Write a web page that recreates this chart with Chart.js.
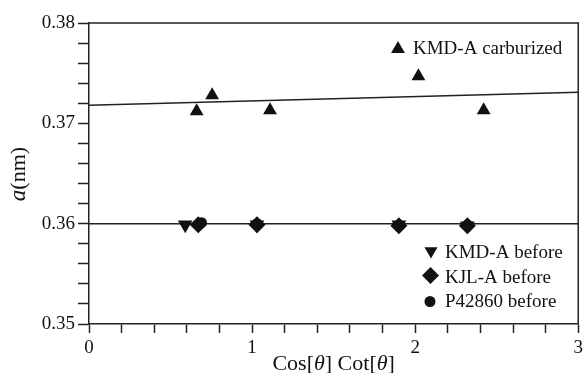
<!DOCTYPE html>
<html>
<head>
<meta charset="utf-8">
<script src="https://cdn.jsdelivr.net/npm/chart.js@4"></script>
<style>
  html, body { margin: 0; padding: 0; background: #fff; overflow: hidden; }
  #wrap { width: 583px; height: 373px; overflow: hidden; }
</style>
</head>
<body>
<div id="wrap"><canvas id="latticeChart" width="587" height="373"></canvas></div>
<script>
// data
var carbX = [0.66, 0.755, 1.11, 2.02, 2.42];
var carbY = [0.3712, 0.3728, 0.3713, 0.3747, 0.3713];
var kmdX = [0.59, 1.03, 1.90, 2.32];
var kmdY = [0.3599, 0.3599, 0.3599, 0.3598];
var kjlX = [0.67, 1.03, 1.90, 2.32];
var kjlY = [0.3599, 0.3599, 0.3598, 0.3598];
var p428X = [0.69, 1.03];
var p428Y = [0.3601, 0.3600];
var fitX = [0, 3];
var carbFitY = [0.3718, 0.3731];
var beforeFitY = [0.36, 0.36];
var xLabels = [0, 1, 2, 3];
var yLabels = [0.35, 0.36, 0.37, 0.38];

var serif = '"Liberation Serif", "DejaVu Serif", serif';
var ink = '#111';

function pts(xs, ys) {
    return xs.map(function (x, i) { return { x: x, y: ys[i] }; });
}

function marker(ctx, style, x, y, r) {
    ctx.beginPath();
    if (style === 'circle') {
        ctx.arc(x, y, r, 0, Math.PI * 2);
    } else if (style === 'up') {
        ctx.moveTo(x, y - r);
        ctx.lineTo(x + r * 0.866, y + r / 2);
        ctx.lineTo(x - r * 0.866, y + r / 2);
    } else if (style === 'down') {
        ctx.moveTo(x, y + r);
        ctx.lineTo(x + r * 0.866, y - r / 2);
        ctx.lineTo(x - r * 0.866, y - r / 2);
    } else {
        ctx.moveTo(x, y - r);
        ctx.lineTo(x + r, y);
        ctx.lineTo(x, y + r);
        ctx.lineTo(x - r, y);
    }
    ctx.closePath();
    ctx.fill();
}

// frame, axis titles and legends
var extras = {
    id: 'extras',
    afterDraw: function (chart) {
        var ctx = chart.ctx, a = chart.chartArea;
        ctx.save();
        ctx.strokeStyle = '#222';
        ctx.lineWidth = 1.5;
        ctx.beginPath();
        ctx.moveTo(a.left, a.top);
        ctx.lineTo(a.right, a.top);
        ctx.lineTo(a.right, a.bottom);
        ctx.stroke();

        ctx.fillStyle = ink;
        ctx.textBaseline = 'alphabetic';

        // x title
        var parts = [['Cos[', ''], ['\u03b8', 'italic '], ['] Cot[', ''], ['\u03b8', 'italic '], [']', '']];
        var total = 0;
        parts.forEach(function (p) {
            ctx.font = p[1] + '22px ' + serif;
            total += ctx.measureText(p[0]).width;
        });
        var cx = (a.left + a.right) / 2 - total / 2;
        parts.forEach(function (p) {
            ctx.font = p[1] + '22px ' + serif;
            ctx.fillText(p[0], cx, 370);
            cx += ctx.measureText(p[0]).width;
        });

        // y title
        ctx.save();
        ctx.translate(25, 174);
        ctx.rotate(-Math.PI / 2);
        ctx.font = 'italic 23px ' + serif;
        var wa = ctx.measureText('a').width;
        ctx.font = '22px ' + serif;
        var wn = ctx.measureText('(nm)').width;
        var sx = -(wa + wn) / 2;
        ctx.font = 'italic 23px ' + serif;
        ctx.fillText('a', sx, 0);
        ctx.font = '22px ' + serif;
        ctx.fillText('(nm)', sx + wa, 0);
        ctx.restore();

        // legends
        ctx.font = '19px ' + serif;
        marker(ctx, 'up', 398, 49, 8);
        ctx.fillText('KMD-A carburized', 413, 54);
        marker(ctx, 'down', 431, 251, 7.5);
        ctx.fillText('KMD-A before', 445, 258);
        marker(ctx, 'diamond', 430.5, 275.5, 8.5);
        ctx.fillText('KJL-A before', 445, 283);
        marker(ctx, 'circle', 430, 301.5, 5.5);
        ctx.fillText('P42860 before', 445, 307);
        ctx.restore();
    }
};

var ctx = document.getElementById('latticeChart').getContext('2d');
new Chart(ctx, {
    type: 'scatter',
    data: {
        datasets: [
            { label: 'KMD-A carburized', data: pts(carbX, carbY), pointStyle: 'triangle', pointRadius: 8, backgroundColor: ink, borderWidth: 0 },
            { label: 'P42860 before', data: pts(p428X, p428Y), pointStyle: 'circle', pointRadius: 5.5, backgroundColor: ink, borderWidth: 0 },
            { label: 'KJL-A before', data: pts(kjlX, kjlY), pointStyle: 'rectRot', pointRadius: 8.5, backgroundColor: ink, borderWidth: 0 },
            { label: 'KMD-A before', data: pts(kmdX, kmdY), pointStyle: 'triangle', rotation: 180, pointRadius: 8.5, backgroundColor: ink, borderWidth: 0 },
            { label: 'fit carburized', data: pts(fitX, carbFitY), showLine: true, pointRadius: 0, borderColor: '#222', borderWidth: 1.5 },
            { label: 'fit before', data: pts(fitX, beforeFitY), showLine: true, pointRadius: 0, borderColor: '#222', borderWidth: 1.5 }
        ]
    },
    options: {
        responsive: false,
        animation: false,
        layout: { padding: { top: 23, right: 0, left: 0, bottom: 0 } },
        plugins: { legend: { display: false }, tooltip: { enabled: false } },
        scales: {
            x: {
                type: 'linear', min: 0, max: 3,
                afterFit: function (s) { s.height = 49; },
                grid: { drawOnChartArea: false, tickLength: 9, tickColor: '#222', tickWidth: 1.5 },
                border: { color: '#222', width: 1.5 },
                ticks: {
                    stepSize: 0.2, autoSkip: false, maxRotation: 0, padding: 4,
                    color: ink, font: { family: serif, size: 19 },
                    callback: function (v) {
                        var hit = xLabels.filter(function (t) { return Math.abs(t - v) < 1e-6; });
                        return hit.length ? String(hit[0]) : '';
                    }
                }
            },
            y: {
                min: 0.35, max: 0.38,
                afterFit: function (s) { s.width = 89; },
                grid: { drawOnChartArea: false, tickLength: 11, tickColor: '#222', tickWidth: 1.5 },
                border: { color: '#222', width: 1.5 },
                ticks: {
                    stepSize: 0.002, autoSkip: false, padding: 3,
                    color: ink, font: { family: serif, size: 19 },
                    callback: function (v) {
                        var hit = yLabels.filter(function (t) { return Math.abs(t - v) < 1e-7; });
                        return hit.length ? hit[0].toFixed(2) : '';
                    }
                }
            }
        }
    },
    plugins: [extras]
});
</script>
</body>
</html>
